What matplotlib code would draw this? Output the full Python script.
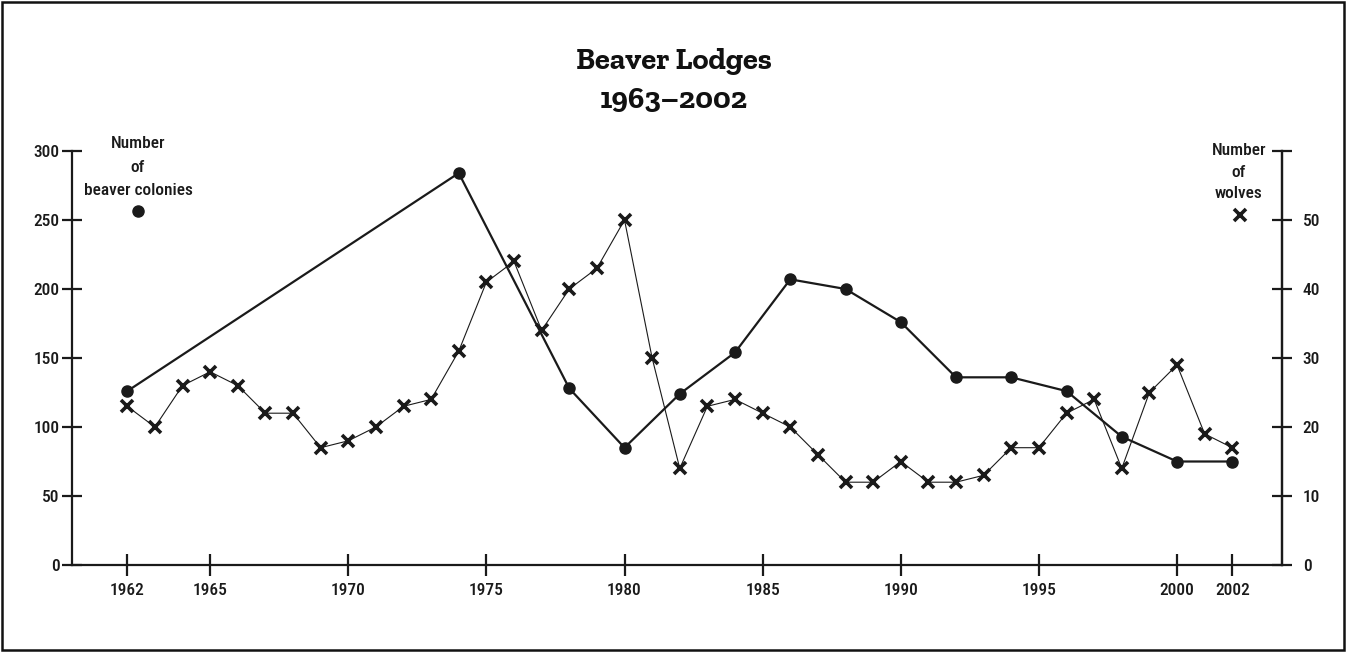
import matplotlib
matplotlib.use('Agg')
import matplotlib.pyplot as plt
from matplotlib.patches import Rectangle

# beaver colonies (left axis)
beaver_years = [1962, 1974, 1978, 1980, 1982, 1984, 1986, 1988, 1990,
                1992, 1994, 1996, 1998, 2000, 2002]
beaver_colonies = [126, 284, 128, 85, 124, 154, 207, 200, 176,
                   136, 136, 126, 93, 75, 75]

# wolves (right axis), every year
wolf_years = list(range(1962, 2003))
wolves = [23, 20, 26, 28, 26, 22, 22, 17, 18, 20, 23, 24, 31, 41, 44, 34,
          40, 43, 50, 30, 14, 23, 24, 22, 20, 16, 12, 12, 15, 12, 12, 13,
          17, 17, 22, 24, 14, 25, 29, 19, 17]

xticks = [1962, 1965, 1970, 1975, 1980, 1985, 1990, 1995, 2000, 2002]
left_ticks = [0, 50, 100, 150, 200, 250, 300]
right_ticks = [0, 10, 20, 30, 40, 50, 60]
right_labels = ['0', '10', '20', '30', '40', '50', '']

INK = '#1a1a1a'
W, H = 1347, 652
plt.rcParams['font.family'] = ['Roboto Condensed', 'DejaVu Sans']
plt.rcParams['font.size'] = 12.5
plt.rcParams['font.weight'] = 'medium'

fig = plt.figure(figsize=(W / 100, H / 100), dpi=100)
ax = fig.add_axes([72 / W, 1 - 565 / H, (1282 - 72) / W, (565 - 151) / H])
ax2 = ax.twinx()

ax.plot(beaver_years, beaver_colonies, color=INK, linewidth=1.6,
        marker='o', markersize=8, zorder=3)
ax2.plot(wolf_years, wolves, color=INK, linewidth=0.8,
         marker='x', markersize=9, markeredgewidth=2.6, zorder=3)

ax.set_xlim(1960, 2003.8)
ax.set_ylim(0, 300)
ax2.set_ylim(0, 60)

ax.set_xticks(xticks)
ax.set_yticks(left_ticks)
ax2.set_yticks(right_ticks)
ax2.set_yticklabels(right_labels)

for a in (ax, ax2):
    a.spines['top'].set_visible(False)
    for s in a.spines.values():
        s.set_linewidth(1.6)
        s.set_color(INK)
ax2.spines['left'].set_visible(False)
ax2.spines['bottom'].set_visible(False)

ax.tick_params(axis='x', direction='inout', length=16, width=1.6, pad=5,
               color=INK, labelcolor=INK)
ax.tick_params(axis='y', direction='inout', length=14, width=1.6, pad=2,
               color=INK, labelcolor=INK)
ax2.tick_params(axis='y', direction='inout', length=14, width=1.6, pad=8,
                color=INK, labelcolor=INK)

# legend-like labels, one line at a time
def label_lines(x, lines, baselines):
    for txt, yb in zip(lines, baselines):
        fig.text(x / W, 1 - yb / H, txt, ha='center', va='baseline', color=INK)

label_lines(138, ['Number', 'of', 'beaver colonies'], [148, 172, 195])
label_lines(1239, ['Number', 'of', 'wolves'], [155, 177, 198])
ax.plot([138 / W], [1 - 211 / H], transform=fig.transFigure, marker='o',
        markersize=8, color=INK, clip_on=False)
ax.plot([1240 / W], [1 - 215 / H], transform=fig.transFigure, marker='x',
        markersize=9, markeredgewidth=2.6, color=INK, clip_on=False)

title_font = dict(family=['Zilla Slab', 'DejaVu Serif'], fontweight='bold',
                  fontsize=22, color='#111111', ha='center', va='baseline')
fig.text(0.5, 1 - 69 / H, 'Beaver Lodges', **title_font)
fig.text(0.5, 1 - 108 / H, '1963–2002', **title_font)

fig.patches.append(Rectangle((2 / W, 2 / H), (W - 5) / W, (H - 4) / H,
                             transform=fig.transFigure, fill=False,
                             edgecolor='#111111', linewidth=1.8))

fig.savefig('out.png', dpi=100)
